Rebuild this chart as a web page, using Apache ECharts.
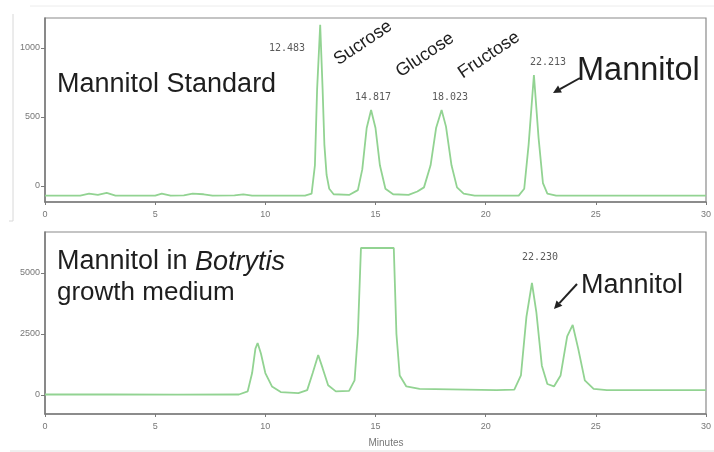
<!DOCTYPE html>
<html>
<head>
<meta charset="utf-8">
<script src="https://cdn.jsdelivr.net/npm/echarts@6/dist/echarts.min.js"></script>
<style>
html,body{margin:0;padding:0;background:#fff;}
#c{width:714px;height:452px;}
</style>
</head>
<body>
<div id="c"></div>
<script>
// X ticks (minutes)
const xTicks = [0, 5, 10, 15, 20, 25, 30];
const topYTicks = [0, 500, 1000];
const botYTicks = [0, 2500, 5000];

// Mannitol standard chromatogram [minutes, response]
const standardTrace = [
  [0,-70],[1.6,-70],[2.0,-55],[2.4,-65],[2.8,-50],[3.2,-70],[5.0,-70],[5.3,-55],[5.7,-70],
  [6.3,-68],[6.7,-55],[7.2,-60],[7.6,-70],[8.6,-68],[9.0,-60],[9.4,-70],[11.8,-70],[12.1,-55],
  [12.25,150],[12.35,700],[12.49,1167],[12.6,700],[12.68,300],[12.78,80],[12.9,-20],[13.1,-60],
  [13.8,-65],[14.2,-30],[14.4,120],[14.6,420],[14.8,551],[15.0,420],[15.2,150],[15.45,-20],
  [15.8,-60],[16.5,-65],[16.9,-40],[17.2,-10],[17.5,150],[17.75,420],[18.0,551],[18.2,430],
  [18.45,150],[18.7,-10],[19.0,-55],[19.5,-70],[21.5,-70],[21.75,-20],[21.95,300],[22.19,804],
  [22.4,350],[22.6,20],[22.8,-55],[23.2,-70],[30,-70]
];

// Mannitol in Botrytis growth medium [minutes, response]
const mediumTrace = [
  [0,20],[3,20],[6,15],[8.8,20],[9.2,150],[9.4,900],[9.55,1900],[9.65,2130],[9.8,1700],
  [10.0,900],[10.3,350],[10.7,120],[11.5,80],[11.9,200],[12.15,900],[12.4,1640],[12.6,1100],
  [12.85,400],[13.2,150],[13.8,170],[14.05,600],[14.2,2500],[14.34,6025],[15.83,6025],
  [15.95,2500],[16.1,800],[16.4,350],[17.0,250],[20.5,200],[21.3,220],[21.6,800],[21.85,3200],
  [22.1,4590],[22.3,3400],[22.55,1200],[22.8,450],[23.1,350],[23.4,800],[23.7,2400],
  [23.95,2870],[24.2,1900],[24.5,600],[24.9,250],[25.5,200],[30,200]
];

const lineColor = '#92d392';
const axisColor = '#7a7a7a';
const font = 'Liberation Sans, Arial, sans-serif';
const mono = 'DejaVu Sans Mono, monospace';

function xAxisCfg(gi) {
  return {
    type: 'value', gridIndex: gi, min: 0, max: 30, interval: 5,
    axisLine: {onZero: false, lineStyle: {color: axisColor, width: 1.5}},
    axisTick: {show: true, inside: false, length: 3, lineStyle: {color: axisColor}},
    axisLabel: {color: '#777', fontSize: 9, fontFamily: font, margin: 8},
    splitLine: {show: false}
  };
}
function yAxisCfg(gi, min, max, ticks) {
  return {
    type: 'value', gridIndex: gi, min: min, max: max,
    axisLine: {show: true, lineStyle: {color: axisColor, width: 1.5}},
    axisTick: {show: true, length: 4, customValues: ticks, lineStyle: {color: axisColor}},
    axisLabel: {color: '#777', fontSize: 9, fontFamily: font, margin: 5, customValues: ticks,
      formatter: function (v) { return String(v); }},
    splitLine: {show: false}
  };
}

function txt(x, y, text, size, opts) {
  return Object.assign({
    type: 'text', x: x, y: y,
    style: Object.assign({text: text, fill: '#1e1e1e', font: size + 'px ' + font,
      align: 'left', verticalAlign: 'middle'}, (opts && opts.style) || {})
  }, (opts && opts.el) || {});
}
function num(x, y, text) {
  return txt(x, y, text, 10, {style: {align: 'center', fill: '#5a5a5a', font: '10px ' + mono}});
}
function arrow(x1, y1, x2, y2) {
  const ang = Math.atan2(y2 - y1, x2 - x1);
  const L = 8, W = 4;
  const bx = x2 - L * Math.cos(ang), by = y2 - L * Math.sin(ang);
  const px = -Math.sin(ang) * W, py = Math.cos(ang) * W;
  return [
    {type: 'line', shape: {x1: x1, y1: y1, x2: bx, y2: by}, style: {stroke: '#222', lineWidth: 2}},
    {type: 'polygon', shape: {points: [[x2, y2], [bx + px, by + py], [bx - px, by - py]]}, style: {fill: '#222'}}
  ];
}

const chart = echarts.init(document.getElementById('c'), null, {renderer: 'canvas'});
const rot = 34 * Math.PI / 180;
chart.setOption({
  animation: false,
  backgroundColor: '#fff',
  grid: [
    {left: 45, top: 18, width: 664, height: 184, show: true, borderColor: '#8a8a8a', borderWidth: 1.2},
    {left: 45, top: 232, width: 663, height: 182, show: true, borderColor: '#8a8a8a', borderWidth: 1.2}
  ],
  xAxis: [xAxisCfg(0), xAxisCfg(1)],
  yAxis: [yAxisCfg(0, -116, 1217, topYTicks), yAxisCfg(1, -779, 6680, botYTicks)],
  series: [
    {type: 'line', xAxisIndex: 0, yAxisIndex: 0, data: standardTrace, showSymbol: false,
     lineStyle: {color: lineColor, width: 1.8}, smooth: false},
    {type: 'line', xAxisIndex: 1, yAxisIndex: 1, data: mediumTrace, showSymbol: false,
     lineStyle: {color: lineColor, width: 1.8}, smooth: false}
  ],
  graphic: [
    // outer faint frame pieces
    {type: 'line', shape: {x1: 13, y1: 14, x2: 13, y2: 221}, style: {stroke: '#d8d8d8', lineWidth: 1}},
    {type: 'line', shape: {x1: 9, y1: 221, x2: 13, y2: 221}, style: {stroke: '#d8d8d8', lineWidth: 1}},
    {type: 'line', shape: {x1: 10, y1: 451, x2: 714, y2: 451}, style: {stroke: '#e0e0e0', lineWidth: 1}},
    {type: 'line', shape: {x1: 30, y1: 6, x2: 714, y2: 6}, style: {stroke: '#ececec', lineWidth: 1}},

    txt(57, 85, 'Mannitol Standard', 27),
    txt(577, 71, 'Mannitol', 32.5),
    ...arrow(580, 78, 553, 93),
    txt(363, 43, 'Sucrose', 18, {style: {align: 'center'}, el: {rotation: rot}}),
    txt(425, 55, 'Glucose', 18, {style: {align: 'center'}, el: {rotation: rot}}),
    txt(489, 55, 'Fructose', 18, {style: {align: 'center'}, el: {rotation: rot}}),
    num(287, 48, '12.483'),
    num(373, 97, '14.817'),
    num(450, 97, '18.023'),
    num(548, 62, '22.213'),

    {type: 'text', x: 57, y: 262, style: {
      text: '{n|Mannitol in }{i|Botrytis}', verticalAlign: 'middle', align: 'left',
      rich: {n: {fontSize: 27, fontFamily: font, fill: '#1e1e1e'},
             i: {fontSize: 27, fontFamily: font, fontStyle: 'italic', fill: '#1e1e1e'}}}},
    txt(57, 293, 'growth medium', 26),
    num(540, 257, '22.230'),
    txt(581, 286, 'Mannitol', 27),
    ...arrow(577, 284, 554, 309),
    txt(386, 443, 'Minutes', 10, {style: {align: 'center', fill: '#777'}})
  ]
});
</script>
</body>
</html>
